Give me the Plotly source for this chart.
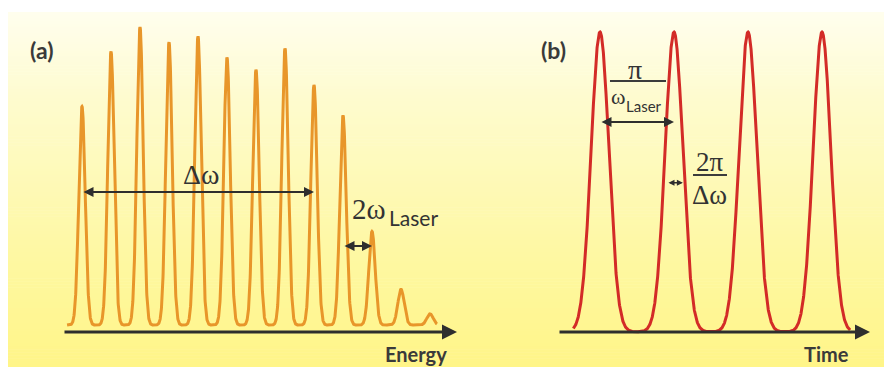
import numpy as np
import plotly.graph_objects as go

W, H = 885, 367

# ---- (a) high-harmonic spectrum: odd harmonic orders and relative peak intensity
harmonic_orders = [11, 13, 15, 17, 19, 21, 23, 25, 27, 29, 31, 33, 35]
harmonic_intensity = [0.74, 0.92, 1.00, 0.95, 0.97, 0.90, 0.86, 0.93, 0.81, 0.71, 0.33, 0.14, 0.06]
spectrum_floor = 0.023
harmonic_width = 0.22          # gaussian sigma, in harmonic orders
energy_span = [9.97, 35.48]    # sampled energy window (harmonic orders)

# ---- (b) attosecond pulse train: arrival times in units of pi/omega_L
pulse_times = [0, 1, 2, 3]
pulse_amplitude = [1.0, 1.0, 1.0, 1.0]
pulse_width = 0.12             # gaussian sigma, in units of pi/omega_L
time_span = [-0.36, 3.38]

# axis windows (data units)
energy_range = [9.69, 36.86]
intensity_range = [-0.026, 1.033]
time_range = [-0.5676, 3.6486]
amplitude_range = [-0.027, 1.04]


def px(x):
    return x / W


def py(y):
    return 1 - y / H


# spectrum curve
e = np.linspace(energy_span[0], energy_span[1], 2500)
spec = np.full_like(e, spectrum_floor)
for h, a in zip(harmonic_orders, harmonic_intensity):
    spec += (a - spectrum_floor) * np.exp(-((e - h) ** 2) / (2 * harmonic_width ** 2))

# pulse train curve
t = np.linspace(time_span[0], time_span[1], 2500)
pulses = np.zeros_like(t)
for t0, a in zip(pulse_times, pulse_amplitude):
    pulses += a * np.exp(-((t - t0) ** 2) / (2 * pulse_width ** 2))

fig = go.Figure()
fig.add_trace(go.Scatter(x=e, y=spec, mode="lines", xaxis="x", yaxis="y",
                         line=dict(color="#E8962A", width=3), hoverinfo="skip"))
fig.add_trace(go.Scatter(x=t, y=pulses, mode="lines", xaxis="x2", yaxis="y2",
                         line=dict(color="#D32B27", width=3), hoverinfo="skip"))

# pale-to-yellow vertical gradient background built from thin bands
stops_y = [12, 100, 250, 367]
stops_c = [(255, 254, 238), (254, 251, 206), (254, 248, 164), (255, 245, 136)]
shapes = []
n_bands = 120
edges = np.linspace(12, H, n_bands + 1)
for i in range(n_bands):
    yc = 0.5 * (edges[i] + edges[i + 1])
    rgb = [int(round(np.interp(yc, stops_y, [c[k] for c in stops_c]))) for k in range(3)]
    shapes.append(dict(type="rect", xref="paper", yref="paper", layer="below",
                       x0=px(8), x1=px(884), y0=py(edges[i + 1] + 0.6), y1=py(edges[i]),
                       line=dict(width=0), fillcolor="rgb(%d,%d,%d)" % tuple(rgb)))

ink = "#2E2E2E"
text_ink = "#333333"
label_font = dict(family="Lato", size=23, color="#3A3A3A")
axis_font = dict(family="Lato", size=20, color="#3A3A3A")


def serif(size):
    return dict(family="Liberation Serif", size=size, color=text_ink)


def sans(size):
    return dict(family="Lato", size=size, color=text_ink)


def arrow(xref, yref, x0, x1, y, width=2, both=True, head=2, size=1.0, color=ink):
    return dict(xref=xref, yref=yref, axref=xref, ayref=yref, x=x1, y=y, ax=x0, ay=y,
                text="", showarrow=True, arrowhead=head, startarrowhead=head,
                arrowside="end+start" if both else "end", arrowsize=size,
                startarrowsize=size, arrowwidth=width, arrowcolor=color,
                standoff=0, startstandoff=0)


def label(xref, yref, x, y, text, font, xanchor="center", yanchor="middle"):
    return dict(xref=xref, yref=yref, x=x, y=y, text=text, showarrow=False,
                xanchor=xanchor, yanchor=yanchor, font=font)


annotations = [
    # axes
    arrow("x", "y", energy_range[0], energy_range[1], 0, width=3, both=False),
    arrow("x2", "y2", time_range[0], time_range[1], 0, width=3, both=False),
    # spectral bandwidth and harmonic spacing
    arrow("x", "y", harmonic_orders[0], harmonic_orders[8], 0.459, width=2),
    arrow("x", "y", harmonic_orders[9], harmonic_orders[10], 0.282, width=2),
    # pulse spacing and pulse duration
    arrow("x2", "y2", pulse_times[0], pulse_times[1], 0.70, width=2),
    arrow("x2", "y2", pulse_times[1] - 0.095, pulse_times[1] + 0.12, 0.497, width=1.5, size=0.8),
    # panel labels and axis titles (titles sit on the bottom edge)
    label("paper", "paper", px(41), py(50), "<b>(a)</b>", label_font),
    label("paper", "paper", px(553), py(50), "<b>(b)</b>", label_font),
    dict(label("paper", "paper", px(416), 0, "<b>Energy</b>", axis_font, yanchor="bottom"),
         borderpad=0, yshift=0),
    dict(label("paper", "paper", px(826), 0, "<b>Time</b>", axis_font, yanchor="bottom"),
         borderpad=0, yshift=0),
    # formula labels, panel (a)
    label("x", "y", 19.2, 0.515, "Δω", serif(28)),
    label("x", "y", 29.45, 0.405, "2ω", serif(29), xanchor="left"),
    label("x", "y", 32.05, 0.375, "Laser", sans(21), xanchor="left"),
    # formula labels, panel (b)
    label("x2", "y2", 0.473, 0.875, "π", serif(28)),
    label("x2", "y2", 0.125, 0.785, "ω", serif(22), xanchor="left"),
    label("x2", "y2", 0.33, 0.753, "Laser", sans(15), xanchor="left"),
    label("x2", "y2", 1.486, 0.565, "2π", serif(27)),
    label("x2", "y2", 1.48, 0.455, "Δω", serif(27)),
]

# fraction bars
shapes += [
    dict(type="line", xref="x2", yref="y2", x0=0.135, x1=0.892, y0=0.837, y1=0.837,
         line=dict(color="#3C3C3C", width=2)),
    dict(type="line", xref="x2", yref="y2", x0=1.257, x1=1.716, y0=0.523, y1=0.523,
         line=dict(color="#3C3C3C", width=2)),
]

hidden = dict(visible=False, showgrid=False, zeroline=False, fixedrange=True)
fig.update_layout(
    width=W, height=H, margin=dict(l=0, r=0, t=0, b=0),
    paper_bgcolor="white", plot_bgcolor="rgba(0,0,0,0)", showlegend=False,
    xaxis=dict(hidden, domain=[px(63), px(457)], range=energy_range),
    yaxis=dict(hidden, domain=[py(340), py(17)], range=intensity_range),
    xaxis2=dict(hidden, domain=[px(558), px(870)], range=time_range, anchor="y2"),
    yaxis2=dict(hidden, domain=[py(340), py(20)], range=amplitude_range, anchor="x2"),
    shapes=shapes, annotations=annotations,
)

fig.write_html("out.html")
